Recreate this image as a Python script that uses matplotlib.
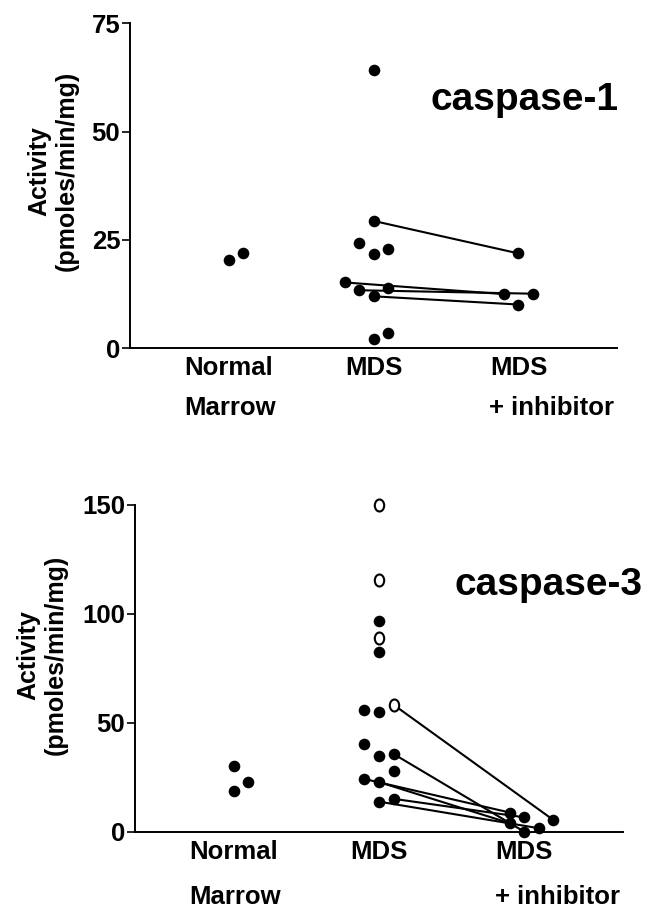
import matplotlib
matplotlib.use("Agg")
import matplotlib.pyplot as plt
from matplotlib.markers import MarkerStyle
from matplotlib.transforms import Affine2D, blended_transform_factory

plt.rcParams['font.family'] = ['Liberation Sans', 'DejaVu Sans']
plt.rcParams['font.weight'] = 'bold'

# ---- caspase-1 data ----
c1_normal = [20.3, 22.0]
c1_normal_jit = [0.0, 0.1]
c1_mds = [64.2, 29.4, 24.4, 21.8, 23.0, 15.2, 13.4, 13.8, 12.0, 2.1, 3.5]
c1_mds_jit = [0.0, 0.0, -0.1, 0.0, 0.1, -0.2, -0.1, 0.1, 0.0, 0.0, 0.1]
c1_inh = [21.9, 12.5, 12.6, 10.1]
c1_inh_jit = [0.0, -0.1, 0.1, 0.0]
c1_pairs = [(1, 0), (5, 1), (6, 2), (8, 3)]   # (mds index, inhibitor index)

# ---- caspase-3 data ----
c3_normal = [30.0, 18.5, 22.8]
c3_normal_jit = [0.0, 0.0, 0.1]
c3_mds = [96.9, 82.3, 55.8, 54.9, 40.3, 34.9, 35.7, 27.7, 24.2, 22.8, 13.8, 15.1]
c3_mds_jit = [0.0, 0.0, -0.1, 0.0, -0.1, 0.0, 0.1, 0.1, -0.1, 0.0, 0.0, 0.1]
c3_mds_open = [150.0, 115.5, 88.8, 58.3]
c3_mds_open_jit = [0.0, 0.0, 0.0, 0.1]
c3_inh = [8.8, 6.6, 5.4, 3.9, 1.6, 0.0]
c3_inh_jit = [-0.1, 0.0, 0.2, -0.1, 0.1, 0.0]
c3_pairs = [(6, 5), (8, 0), (9, 3), (11, 1), (10, 4)]
c3_open_pairs = [(3, 2)]

W, H = 649, 910
fig = plt.figure(figsize=(W / 100, H / 100), dpi=100)


def px_axes(left, right, top, bottom):
    return fig.add_axes([left / W, 1 - bottom / H, (right - left) / W, (bottom - top) / H])


def style_axes(ax, ymax, yticks):
    ax.set_xlim(0.32, 3.68)
    ax.set_ylim(0, ymax)
    for s in ['top', 'right']:
        ax.spines[s].set_visible(False)
    for s in ['left', 'bottom']:
        ax.spines[s].set_linewidth(1.4)
    ax.set_xticks([])
    ax.set_yticks(yticks)
    ax.tick_params(axis='y', length=6, width=1.2, labelsize=18.5, pad=1)
    for t in ax.get_yticklabels():
        t.set_fontweight('bold')


dot = dict(s=70, c='black', zorder=3, linewidths=0, clip_on=False)
oval = MarkerStyle('o', transform=Affine2D().scale(0.78, 1.0))


def xs(center, jit):
    return [center + j for j in jit]


# ---------------- top panel ----------------
ax1 = px_axes(130, 617, 23.3, 348.3)
style_axes(ax1, 75, [0, 25, 50, 75])
ax1.scatter(xs(1, c1_normal_jit), c1_normal, **dot)
ax1.scatter(xs(2, c1_mds_jit), c1_mds, **dot)
ax1.scatter(xs(3, c1_inh_jit), c1_inh, **dot)
for i, j in c1_pairs:
    ax1.plot([2 + c1_mds_jit[i], 3 + c1_inh_jit[j]], [c1_mds[i], c1_inh[j]],
             color='black', lw=1.5, zorder=2)

# ---------------- bottom panel ----------------
ax2 = px_axes(135, 623, 505, 831.7)
style_axes(ax2, 150, [0, 50, 100, 150])
ax2.scatter(xs(1, c3_normal_jit), c3_normal, **dot)
ax2.scatter(xs(2, c3_mds_jit), c3_mds, **dot)
ax2.scatter(xs(2, c3_mds_open_jit), c3_mds_open, s=75, marker=oval,
            facecolors='white', edgecolors='black', linewidths=1.5, zorder=3,
            clip_on=False)
ax2.scatter(xs(3, c3_inh_jit), c3_inh, **dot)
for i, j in c3_pairs:
    ax2.plot([2 + c3_mds_jit[i], 3 + c3_inh_jit[j]], [c3_mds[i], c3_inh[j]],
             color='black', lw=1.5, zorder=2)
for i, j in c3_open_pairs:
    ax2.plot([2 + c3_mds_open_jit[i], 3 + c3_inh_jit[j]], [c3_mds_open[i], c3_inh[j]],
             color='black', lw=1.5, zorder=2)

# ---------------- text ----------------
lab = dict(fontsize=18.5, fontweight='bold', ha='center', va='center')
for ax, y1, y2 in [(ax1, 368, 408), (ax2, 852, 897)]:
    tr = blended_transform_factory(ax.transData, fig.transFigure)
    ax.text(1, 1 - y1 / H, 'Normal', transform=tr, **lab)
    ax.text(1.01, 1 - y2 / H, 'Marrow', transform=tr, **lab)
    ax.text(2, 1 - y1 / H, 'MDS', transform=tr, **lab)
    ax.text(3, 1 - y1 / H, 'MDS', transform=tr, **lab)
    ax.text(2.8, 1 - y2 / H, '+ inhibitor', transform=tr, fontsize=18.5,
            fontweight='bold', ha='left', va='center')

ylab = 'Activity\n(pmoles/min/mg)'
fig.text(53 / W, 1 - 171 / H, ylab, rotation=90, ha='center', va='center',
         fontsize=18, fontweight='bold', linespacing=1.15, multialignment='center')
fig.text(42 / W, 1 - 655 / H, ylab, rotation=90, ha='center', va='center',
         fontsize=18, fontweight='bold', linespacing=1.15, multialignment='center')

fig.text(430 / W, 1 - 110 / H, 'caspase-1', fontsize=28, fontweight='bold',
         ha='left', va='baseline')
fig.text(455 / W, 1 - 595 / H, 'caspase-3', fontsize=28, fontweight='bold',
         ha='left', va='baseline')

fig.savefig('out.png', dpi=100)
